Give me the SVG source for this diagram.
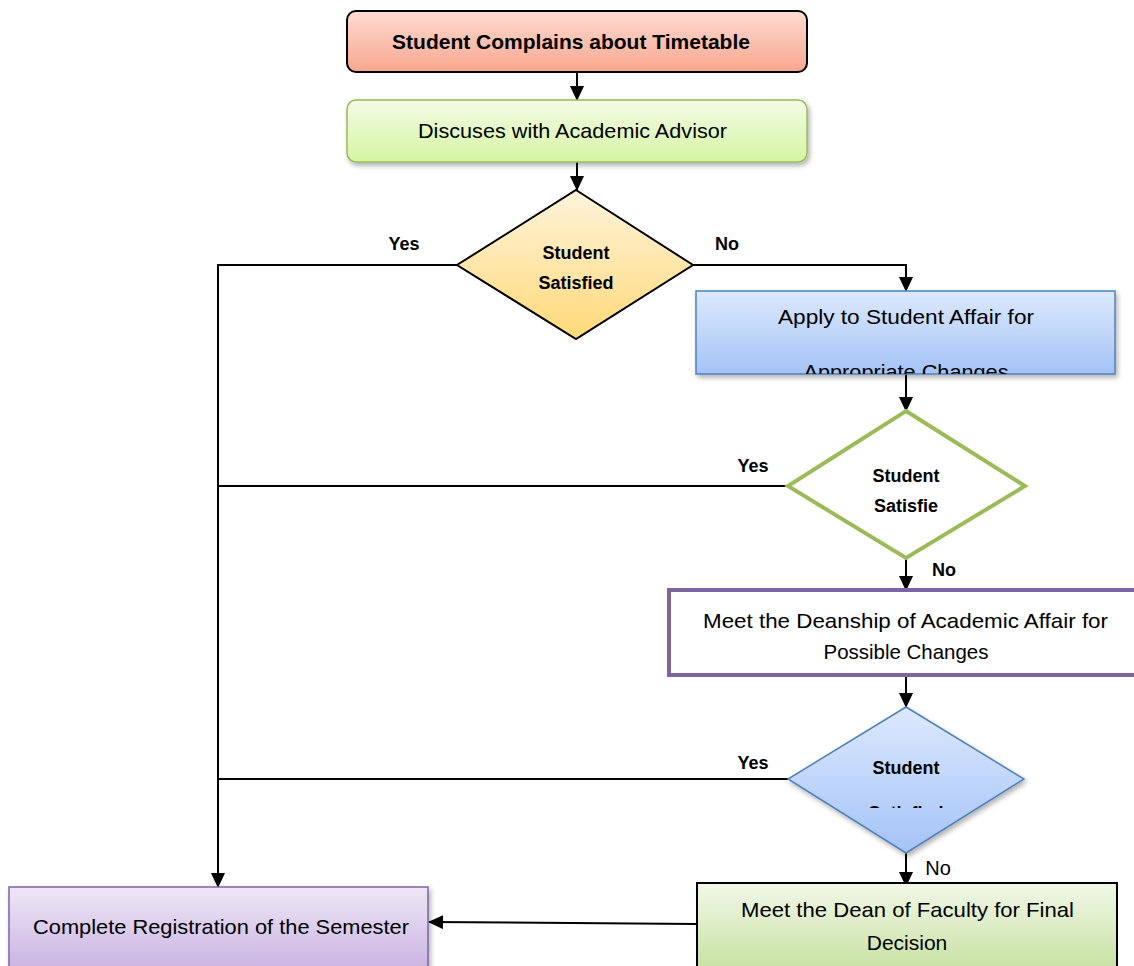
<svg xmlns="http://www.w3.org/2000/svg" width="1134" height="966" viewBox="0 0 1134 966">
<style>
.t{font-family:"Liberation Sans",Arial,sans-serif;font-size:21px;fill:#000;text-anchor:middle}
.b{font-weight:bold}
.d{font-family:"Liberation Sans",Arial,sans-serif;font-size:18px;font-weight:bold;fill:#000;text-anchor:middle}
.c{fill:none;stroke:#000;stroke-width:2}
</style>
<defs>
<marker id="ah" markerWidth="15" markerHeight="14" refX="14" refY="7" orient="auto" markerUnits="userSpaceOnUse">
<path d="M0,0 L15,7 L0,14 Z" fill="#000"/>
</marker>
<linearGradient id="gRed" x1="0" y1="0" x2="0" y2="1"><stop offset="0" stop-color="#fcdcd2"/><stop offset="1" stop-color="#f9a68e"/></linearGradient>
<linearGradient id="gGreen" x1="0" y1="0" x2="0" y2="1"><stop offset="0" stop-color="#f3fbe6"/><stop offset="1" stop-color="#d5f5a2"/></linearGradient>
<linearGradient id="gYel" x1="0" y1="0" x2="0" y2="1"><stop offset="0" stop-color="#fff3dc"/><stop offset="1" stop-color="#ffd979"/></linearGradient>
<linearGradient id="gBlue" x1="0" y1="0" x2="0" y2="1"><stop offset="0" stop-color="#dde9fd"/><stop offset="1" stop-color="#a4c3f7"/></linearGradient>
<linearGradient id="gOlive" x1="0" y1="0" x2="0" y2="1"><stop offset="0" stop-color="#f1f8e9"/><stop offset="1" stop-color="#c6e09f"/></linearGradient>
<linearGradient id="gPurp" x1="0" y1="0" x2="0" y2="1"><stop offset="0" stop-color="#eee7f7"/><stop offset="1" stop-color="#c8b2e1"/></linearGradient>
<filter id="sh" x="-10%" y="-20%" width="120%" height="150%">
<feDropShadow dx="2" dy="3" stdDeviation="2.5" flood-color="#000" flood-opacity="0.3"/>
</filter>
<clipPath id="clip3"><rect x="696" y="291" width="419" height="83"/></clipPath>
<clipPath id="clipD3"><rect x="780" y="700" width="260" height="108"/></clipPath>
</defs>

<g id="connectors">
<line class="c" x1="577" y1="72" x2="577" y2="100" marker-end="url(#ah)"/>
<line class="c" x1="577" y1="162" x2="577" y2="190" marker-end="url(#ah)"/>
<polyline class="c" points="457,265 218,265 218,887" marker-end="url(#ah)"/>
<polyline class="c" points="693,265 906,265 906,291" marker-end="url(#ah)"/>
<line class="c" x1="906" y1="374" x2="906" y2="411" marker-end="url(#ah)"/>
<line class="c" x1="788" y1="486" x2="218" y2="486"/>
<line class="c" x1="906" y1="558" x2="906" y2="590" marker-end="url(#ah)"/>
<line class="c" x1="906" y1="675" x2="906" y2="707" marker-end="url(#ah)"/>
<line class="c" x1="788" y1="779" x2="218" y2="779"/>
<line class="c" x1="906" y1="853" x2="906" y2="886" marker-end="url(#ah)"/>
<line class="c" x1="697" y1="924" x2="429" y2="922" marker-end="url(#ah)"/>
<text class="d" x="404" y="250">Yes</text>
<text class="d" x="727" y="250">No</text>
<text class="d" x="753" y="472">Yes</text>
<text class="d" x="944" y="576">No</text>
<text class="d" x="753" y="769">Yes</text>
<text class="t" x="938" y="875" style="font-size:20px">No</text>
</g>

<g id="n1">
<rect x="347" y="11" width="460" height="61" rx="9" fill="url(#gRed)" stroke="#000" stroke-width="2"/>
<text class="t b" x="571" y="49">Student Complains about Timetable</text>
</g>

<g id="n2">
<rect x="347" y="100" width="460" height="62" rx="9" fill="url(#gGreen)" stroke="#9bbb59" stroke-width="1.5" filter="url(#sh)"/>
<text class="t" x="572.5" y="138" textLength="309" lengthAdjust="spacingAndGlyphs">Discuses with Academic Advisor</text>
</g>

<g id="n3">
<polygon points="576,190 693,265 576,339 457,265" fill="url(#gYel)" stroke="#000" stroke-width="2"/>
<text class="d" x="576" y="259">Student</text>
<text class="d" x="576" y="289">Satisfied</text>
</g>

<g id="n4">
<rect x="696" y="291" width="419" height="83" fill="url(#gBlue)" stroke="#4f81bd" stroke-width="1.5" filter="url(#sh)"/>
<g clip-path="url(#clip3)">
<text class="t" x="906" y="324" textLength="256" lengthAdjust="spacingAndGlyphs">Apply to Student Affair for</text>
<text class="t" x="906" y="379" textLength="205" lengthAdjust="spacingAndGlyphs">Appropriate Changes</text>
</g>
</g>

<g id="n5">
<polygon points="906,411 1025,486 906,558 788,486" fill="#fff" stroke="#9bbb59" stroke-width="4"/>
<text class="d" x="906" y="482">Student</text>
<text class="d" x="906" y="512">Satisfie</text>
</g>

<g id="n6">
<rect x="669" y="590" width="470" height="85" fill="#fff" stroke="#8064a2" stroke-width="4"/>
<text class="t" x="905.5" y="628" textLength="405" lengthAdjust="spacingAndGlyphs">Meet the Deanship of Academic Affair for</text>
<text class="t" x="906" y="659" textLength="165" lengthAdjust="spacingAndGlyphs">Possible Changes</text>
</g>

<g id="n7">
<polygon points="906,707 1024,779 906,853 788,779" fill="url(#gBlue)" stroke="#4f81bd" stroke-width="1.5" filter="url(#sh)"/>
<text class="d" x="906" y="774">Student</text>
<g clip-path="url(#clipD3)">
<text class="d" x="906" y="819">Satisfied</text>
</g>
</g>

<g id="n8">
<rect x="697" y="883" width="420" height="90" fill="url(#gOlive)" stroke="#000" stroke-width="2"/>
<text class="t" x="907.5" y="917" textLength="333" lengthAdjust="spacingAndGlyphs">Meet the Dean of Faculty for Final</text>
<text class="t" x="907" y="950">Decision</text>
</g>

<g id="n9">
<rect x="9" y="887" width="419" height="85" fill="url(#gPurp)" stroke="#8064a2" stroke-width="1.5" filter="url(#sh)"/>
<text class="t" x="221" y="934" textLength="376" lengthAdjust="spacingAndGlyphs">Complete Registration of the Semester</text>
</g>
</svg>
